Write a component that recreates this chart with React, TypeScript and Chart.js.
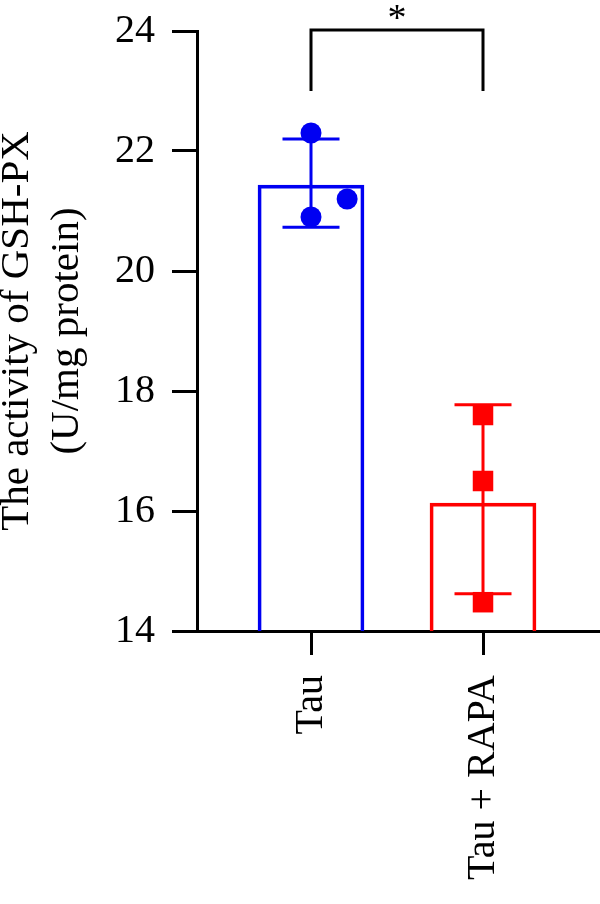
import React, { useEffect, useRef } from "react";
import { Chart, registerables } from "chart.js";

Chart.register(...registerables);

// ---- data ----
const categories = ["Tau", "Tau + RAPA"];
const barMeans = [21.43, 16.13];
const errLow = [20.73, 14.62];
const errHigh = [22.2, 17.77];
const pointsTau = [22.3, 21.2, 20.9];
const pointsTauJitter = [0, 0.21, 0];
const pointsRapa = [17.6, 16.5, 14.48];
const pointsRapaJitter = [0, 0, 0];
const yTicks = [14, 16, 18, 20, 22, 24];
const sigBracket = { from: 0, to: 1, top: 24, legBottom: 23.0, label: "*" };
const colors = ["#0000F2", "#FF0000"];

const FONT = "'Liberation Serif', 'Times New Roman', serif";

const errorBarPlugin = {
  id: "errorBars",
  afterDatasetsDraw(chart: any) {
    const { ctx, scales } = chart;
    const xs = scales.x;
    const ys = scales.y;
    ctx.save();
    ctx.lineWidth = 3;
    for (let i = 0; i < categories.length; i++) {
      const px = xs.getPixelForValue(i);
      const yl = ys.getPixelForValue(errLow[i]);
      const yh = ys.getPixelForValue(errHigh[i]);
      ctx.strokeStyle = colors[i];
      ctx.beginPath();
      ctx.moveTo(px, yl);
      ctx.lineTo(px, yh);
      ctx.moveTo(px - 28.5, yl);
      ctx.lineTo(px + 28.5, yl);
      ctx.moveTo(px - 28.5, yh);
      ctx.lineTo(px + 28.5, yh);
      ctx.stroke();
    }
    ctx.restore();
  },
};

const bracketPlugin = {
  id: "sigBracket",
  afterDraw(chart: any) {
    const { ctx, scales } = chart;
    const xs = scales.x;
    const ys = scales.y;
    const x1 = xs.getPixelForValue(sigBracket.from);
    const x2 = xs.getPixelForValue(sigBracket.to);
    const yt = ys.getPixelForValue(sigBracket.top) - 1;
    const yb = ys.getPixelForValue(sigBracket.legBottom);
    ctx.save();
    ctx.strokeStyle = "#000";
    ctx.lineWidth = 3;
    ctx.lineCap = "butt";
    ctx.beginPath();
    ctx.moveTo(x1, yb);
    ctx.lineTo(x1, yt);
    ctx.lineTo(x2, yt);
    ctx.lineTo(x2, yb);
    ctx.stroke();
    ctx.fillStyle = "#000";
    ctx.font = `38px ${FONT}`;
    ctx.textAlign = "center";
    ctx.textBaseline = "alphabetic";
    ctx.fillText(sigBracket.label, (x1 + x2) / 2, yt);
    ctx.restore();
  },
};

export default function App() {
  const ref = useRef<HTMLCanvasElement | null>(null);
  useEffect(() => {
    if (!ref.current) return;
    const chart = new Chart(ref.current, {
      type: "bar",
      data: {
        datasets: [
          {
            type: "bar",
            data: barMeans.map((v, i) => ({ x: i, y: v })),
            backgroundColor: "rgba(255,255,255,0)",
            borderColor: colors,
            borderWidth: 3,
            barThickness: 106,
            order: 3,
          } as any,
          {
            type: "scatter",
            data: pointsTau.map((v, i) => ({ x: 0 + pointsTauJitter[i], y: v })),
            pointStyle: "circle",
            pointRadius: 10.5,
            backgroundColor: colors[0],
            borderWidth: 0,
            order: 1,
          } as any,
          {
            type: "scatter",
            data: pointsRapa.map((v, i) => ({ x: 1 + pointsRapaJitter[i], y: v })),
            pointStyle: "rect",
            pointRadius: 14.5,
            backgroundColor: colors[1],
            borderWidth: 0,
            order: 1,
          } as any,
        ],
      },
      options: {
        animation: false,
        responsive: false,
        maintainAspectRatio: false,
        layout: { autoPadding: false, padding: { top: 31, left: 0, right: 0, bottom: 0 } },
        plugins: { legend: { display: false }, tooltip: { enabled: false } },
        scales: {
          x: {
            type: "linear",
            offset: false,
            min: -0.6628,
            max: 1.6802,
            afterBuildTicks: (scale: any) => {
              scale.ticks = categories.map((_, i) => ({ value: i }));
            },
            afterFit: (scale: any) => {
              scale.height = 273;
              scale.paddingLeft = 0;
              scale.paddingRight = 0;
            },
            ticks: {
              callback: (v: any) => categories[Math.round(Number(v))] ?? "",
              color: "#000",
              font: { family: FONT, size: 40 },
              maxRotation: 90,
              minRotation: 90,
              padding: 20,
              autoSkip: false,
            },
            grid: {
              display: true,
              offset: false,
              drawOnChartArea: false,
              drawTicks: true,
              tickLength: 24,
              color: "#000",
              lineWidth: 3,
            },
            border: { display: true, color: "#000", width: 3 },
          },
          y: {
            type: "linear",
            min: 14,
            max: 24,
            afterBuildTicks: (scale: any) => {
              scale.ticks = yTicks.map((v) => ({ value: v }));
            },
            afterFit: (scale: any) => {
              scale.width = 197;
              scale.paddingTop = 0;
              scale.paddingBottom = 0;
            },
            ticks: {
              color: "#000",
              font: { family: FONT, size: 40 },
              padding: 17,
            },
            grid: {
              display: true,
              drawOnChartArea: false,
              drawTicks: true,
              tickLength: 25,
              color: "#000",
              lineWidth: 3,
            },
            border: { display: true, color: "#000", width: 3 },
            title: {
              display: true,
              text: ["The activity of GSH-PX", "(U/mg protein)"],
              color: "#000",
              font: { family: FONT, size: 41, lineHeight: 1.22 },
              padding: { top: -8, bottom: 0 },
            },
          },
        },
      } as any,
      plugins: [errorBarPlugin, bracketPlugin],
    });
    return () => chart.destroy();
  }, []);
  return (
    <div style={{ position: "absolute", left: 0, top: 0, width: 600, height: 904, background: "#fff" }}>
      <canvas ref={ref} width={600} height={904} style={{ display: "block" }} />
    </div>
  );
}
